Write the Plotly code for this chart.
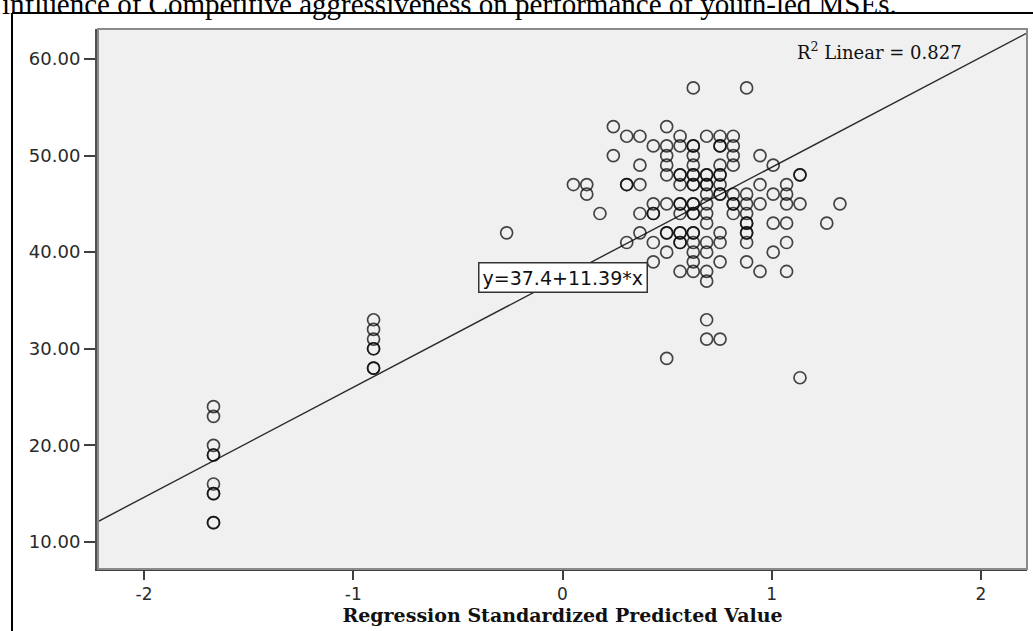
import plotly.graph_objects as go

# ---------------- data ----------------
col_x = [-1.668, -0.903, -0.267, 0.052, 0.116, 0.179, 0.243, 0.307, 0.370, 0.434,
         0.498, 0.562, 0.625, 0.689, 0.753, 0.816, 0.880, 0.944, 1.007, 1.071,
         1.135, 1.263, 1.326]
col_scores = [
    [24, 23, 20, 19, 19, 16, 15, 15, 12, 12],
    [33, 32, 31, 30, 30, 28, 28],
    [42],
    [47],
    [47, 46],
    [44],
    [53, 50],
    [52, 47, 47, 41],
    [52, 49, 47, 44, 42],
    [51, 45, 44, 44, 41, 39],
    [53, 51, 50, 49, 48, 45, 42, 42, 40, 29],
    [52, 51, 48, 48, 47, 45, 45, 44, 42, 42, 41, 41, 38],
    [57, 51, 51, 50, 49, 48, 48, 47, 47, 45, 45, 44, 44, 42, 42, 41, 40, 39, 38],
    [52, 48, 48, 47, 47, 46, 45, 44, 43, 41, 40, 38, 37, 33, 31],
    [52, 51, 51, 49, 48, 48, 47, 46, 46, 42, 41, 39, 31],
    [52, 51, 50, 49, 46, 45, 45, 44],
    [57, 46, 45, 44, 43, 43, 42, 42, 41, 39],
    [50, 47, 45, 38],
    [49, 46, 43, 40],
    [47, 46, 45, 43, 41, 38],
    [48, 48, 45, 27],
    [43],
    [45],
]
intercept = 37.4
slope = 11.39
r_squared = 0.827
x_ticks = [-2, -1, 0, 1, 2]
y_ticks = [10, 20, 30, 40, 50, 60]
x_range = [-2.22, 2.22]
y_range = [7.2, 63.1]

x_title = "Regression Standardized Predicted Value"
doc_caption = "influence of Competitive aggressiveness on performance of youth-led MSEs."

# ---------------- build ----------------
pts_x, pts_y = [], []
for cx, scores in zip(col_x, col_scores):
    for s in scores:
        pts_x.append(cx)
        pts_y.append(s)

fig = go.Figure()
line_x = list(x_range)
line_y = [intercept + slope * v for v in line_x]
fig.add_trace(go.Scatter(x=line_x, y=line_y, mode="lines",
                         line=dict(color="#2b2b2b", width=1.4),
                         hoverinfo="skip", showlegend=False, cliponaxis=True))
fig.add_trace(go.Scatter(x=pts_x, y=pts_y, mode="markers",
                         marker=dict(symbol="circle-open", size=12,
                                     color="rgba(10,10,10,0.75)",
                                     line=dict(width=1.7, color="rgba(10,10,10,0.75)")),
                         showlegend=False))

W, H = 1033, 631
L, R, T, B = 98, 6, 29, 62
pw, ph = W - L - R, H - T - B


def px(xp):
    return (xp - L) / pw


def py(yp):
    return (H - B - yp) / ph


fig.update_layout(
    width=W, height=H,
    margin=dict(l=L, r=R, t=T, b=B, pad=0),
    paper_bgcolor="white",
    plot_bgcolor="#f0f0f0",
    showlegend=False,
    font=dict(family="DejaVu Sans", color="#333333"),
)
fig.update_xaxes(range=x_range, tickvals=x_ticks, ticktext=[str(v) for v in x_ticks],
                 showgrid=False, zeroline=False, showline=True, linecolor="#404040",
                 linewidth=2, ticks="outside", ticklen=9, tickwidth=2, tickcolor="#404040",
                 tickfont=dict(family="DejaVu Sans", size=17, color="#2a2a2a"),
                 title=dict(text=f"<b>{x_title}</b>", standoff=4,
                            font=dict(family="DejaVu Serif", size=19, color="#111111")))
fig.update_yaxes(range=y_range, tickvals=y_ticks, ticktext=[f"{v:.2f}" for v in y_ticks],
                 showgrid=False, zeroline=False, showline=True, linecolor="#505050",
                 linewidth=3, ticks="outside", ticklen=11, tickwidth=2, tickcolor="#404040",
                 tickfont=dict(family="DejaVu Sans", size=18, color="#2a2a2a"))

# plot-area border (top/right lighter)
fig.add_shape(type="rect", xref="paper", yref="paper", x0=0, x1=1, y0=0, y1=1,
              line=dict(color="#8a8a8a", width=2), layer="above")
# document frame lines
fig.add_shape(type="line", xref="paper", yref="paper", x0=px(12), x1=px(12),
              y0=py(13), y1=py(H + 5), line=dict(color="black", width=2))
fig.add_shape(type="line", xref="paper", yref="paper", x0=px(12), x1=px(W + 5),
              y0=py(13), y1=py(13), line=dict(color="black", width=2))

# equation label
fig.add_annotation(x=0, y=intercept, xref="x", yref="y",
                   text=f"y={intercept}+{slope}*x", showarrow=False,
                   font=dict(family="DejaVu Sans", size=19, color="#111111"),
                   bgcolor="white", bordercolor="#333333", borderwidth=1.5, borderpad=3)
# R squared label
fig.add_annotation(x=1.92, y=60.8, xref="x", yref="y", xanchor="right", yanchor="middle",
                   text=f"R<sup>2</sup> Linear = {r_squared}", showarrow=False,
                   font=dict(family="DejaVu Serif", size=18, color="#111111"))
# cut-off document caption (the reference shows only its lower part)
fig.add_annotation(x=px(0), y=py(4), xref="paper", yref="paper", xanchor="left",
                   yanchor="middle", text=doc_caption, showarrow=False,
                   font=dict(family="Liberation Serif", size=29, color="black"))

fig.write_html("out.html")
